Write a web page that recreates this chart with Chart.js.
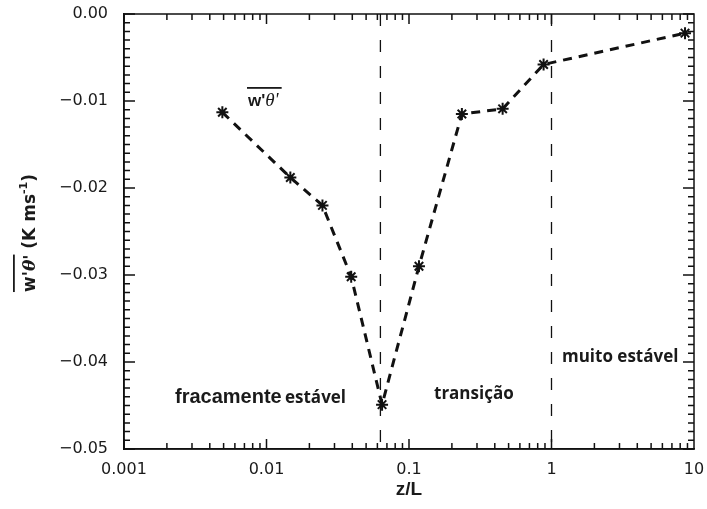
<!DOCTYPE html>
<html>
<head>
<meta charset="utf-8">
<script src="https://cdn.jsdelivr.net/npm/chart.js@4.4.1/dist/chart.umd.min.js"></script>
<style>
  html, body { margin: 0; padding: 0; background: #fff; }
  #wrap { width: 707px; height: 509px; }
</style>
</head>
<body>
<div id="wrap"><canvas id="chart" width="707" height="509"></canvas></div>
<script>
// z/L values and the mean heat flux w'θ'
const zL = [0.0049, 0.0147, 0.0247, 0.0393, 0.0647, 0.1175, 0.235, 0.454, 0.88, 8.65];
const fluxWT = [-0.0113, -0.0188, -0.0220, -0.0302, -0.0449, -0.0290, -0.0115, -0.0109, -0.0058, -0.0022];

// regime boundaries (vertical dashed lines)
const regimeBounds = [0.063, 1];
const regimeLabels = ['fracamente', 'estável', 'transição', 'muito estável'];

const xTicks = [0.001, 0.01, 0.1, 1, 10];
const xTickLabels = ['0.001', '0.01', '0.1', '1', '10'];
const yTicks = [0, -0.01, -0.02, -0.03, -0.04, -0.05];
const yTickLabels = ['0.00', '\u22120.01', '\u22120.02', '\u22120.03', '\u22120.04', '\u22120.05'];

const INK = '#111';
const yMin = -0.05, yMax = 0;

const boundDatasets = regimeBounds.map(b => ({
  data: [{ x: b, y: yMax }, { x: b, y: yMin }],
  showLine: true,
  borderColor: INK,
  borderWidth: 1.3,
  borderDash: [12, 14],
  pointRadius: 0
}));

// inward ticks on all four sides + frame + in-plot texts
const decorPlugin = {
  id: 'decor',
  afterDraw(chart) {
    const { ctx, chartArea: a, scales: { x, y } } = chart;
    ctx.save();
    ctx.setLineDash([]);
    ctx.strokeStyle = INK;
    ctx.lineWidth = 1.5;
    ctx.strokeRect(a.left, a.top, a.right - a.left, a.bottom - a.top);

    ctx.lineWidth = 1.5;
    ctx.beginPath();
    // y ticks, every 0.001, major every 0.01
    for (let i = 0; i <= 50; i++) {
      const py = y.getPixelForValue(-i / 1000);
      const len = i % 10 === 0 ? 11 : 6;
      ctx.moveTo(a.left, py); ctx.lineTo(a.left + len, py);
      ctx.moveTo(a.right, py); ctx.lineTo(a.right - len, py);
    }
    // x ticks, log minors
    for (let d = -3; d <= 0; d++) {
      for (let m = 1; m <= 9; m++) {
        const px = x.getPixelForValue(m * Math.pow(10, d));
        const len = m === 1 ? 10 : 6;
        ctx.moveTo(px, a.bottom); ctx.lineTo(px, a.bottom - len);
        ctx.moveTo(px, a.top); ctx.lineTo(px, a.top + len);
      }
    }
    ctx.stroke();

    ctx.fillStyle = '#1a1a1a';
    ctx.textBaseline = 'alphabetic';
    ctx.textAlign = 'left';
    ctx.font = 'bold 20px "Liberation Sans", Arial, sans-serif';
    ctx.fillText(regimeLabels[0], 175, 403);
    ctx.font = 'bold 17px "Open Sans", sans-serif';
    ctx.fillText(regimeLabels[1], 285, 403);
    ctx.fillText(regimeLabels[2], 434, 399);
    ctx.fillText(regimeLabels[3], 562, 362);

    // in-plot legend label w'θ' with overbar
    ctx.font = 'bold 17px "Liberation Sans", Arial, sans-serif';
    ctx.fillText("w'", 248, 106);
    let wx = 248 + ctx.measureText("w'").width;
    ctx.font = 'italic 19px "Liberation Serif", serif';
    ctx.fillText("\u03b8'", wx, 106);
    wx += ctx.measureText("\u03b8'").width;
    ctx.fillRect(247, 87, wx - 247 + 3, 1.8);

    // y axis title, rotated, with overbar on w'θ'
    ctx.translate(35, 233);
    ctx.rotate(-Math.PI / 2);
    const partA = "w'";
    const partB = "\u03b8'";
    const partC = ' (K ms';
    const partD = '-1';
    const partE = ')';
    const fMain = 'bold 17px "DejaVu Sans", sans-serif';
    const fTheta = 'bold italic 17px "DejaVu Serif", serif';
    const fSup = 'bold 11px "DejaVu Sans", sans-serif';
    ctx.font = fMain; const wA = ctx.measureText(partA).width; const wC = ctx.measureText(partC).width; const wE = ctx.measureText(partE).width;
    ctx.font = fTheta; const wB = ctx.measureText(partB).width;
    ctx.font = fSup; const wD = ctx.measureText(partD).width;
    const total = wA + wB + wC + wD + wE;
    let tx = -total / 2;
    ctx.font = fMain; ctx.fillText(partA, tx, 0); tx += wA;
    ctx.font = fTheta; ctx.fillText(partB, tx, 0); tx += wB;
    ctx.fillRect(-total / 2, -22, wA + wB, 1.8);
    ctx.font = fMain; ctx.fillText(partC, tx, 0); tx += wC;
    ctx.font = fSup; ctx.fillText(partD, tx, -8); tx += wD;
    ctx.font = fMain; ctx.fillText(partE, tx, 0);
    ctx.restore();
  }
};

new Chart(document.getElementById('chart'), {
  type: 'scatter',
  data: {
    datasets: [{
      data: zL.map((v, i) => ({ x: v, y: fluxWT[i] })),
      showLine: true,
      borderColor: INK,
      borderWidth: 3,
      borderDash: [9, 7],
      pointStyle: 'star',
      pointRadius: 6,
      pointBorderWidth: 2,
      pointBorderColor: INK,
      pointBackgroundColor: INK
    }, ...boundDatasets]
  },
  options: {
    responsive: false,
    animation: false,
    layout: { autoPadding: false, padding: { left: 0, top: 14, right: 13, bottom: 0 } },
    plugins: {
      legend: { display: false },
      tooltip: { enabled: false }
    },
    scales: {
      x: {
        type: 'logarithmic',
        min: 0.001,
        max: 10,
        afterBuildTicks: s => { s.ticks = xTicks.map(v => ({ value: v })); },
        afterFit: s => { s.height = 60; s.paddingLeft = 0; s.paddingRight = 0; },
        grid: { display: false, drawTicks: false },
        border: { display: true, color: INK, width: 1.5 },
        ticks: {
          padding: 11,
          color: '#1a1a1a',
          font: { family: '"DejaVu Sans", sans-serif', size: 16 },
          maxRotation: 0,
          autoSkip: false,
          callback: (v) => { const i = xTicks.indexOf(v); return i >= 0 ? xTickLabels[i] : ''; }
        },
        title: {
          display: true,
          text: 'z/L',
          color: '#1a1a1a',
          font: { family: '"Liberation Sans", Arial, sans-serif', size: 19, weight: 'bold' },
          padding: { top: 0, bottom: 8 }
        }
      },
      y: {
        min: yMin,
        max: yMax,
        afterBuildTicks: s => { s.ticks = yTicks.map(v => ({ value: v })); },
        afterFit: s => { s.width = 124; s.paddingTop = 0; s.paddingBottom = 0; },
        grid: { display: false, drawTicks: false },
        border: { display: true, color: INK, width: 1.5 },
        ticks: {
          padding: 16,
          color: '#1a1a1a',
          font: { family: '"DejaVu Sans", sans-serif', size: 16 },
          callback: (v) => { const i = yTicks.findIndex(t => Math.abs(t - v) < 1e-9); return i >= 0 ? yTickLabels[i] : ''; }
        }
      }
    }
  },
  plugins: [decorPlugin]
});
</script>
</body>
</html>
